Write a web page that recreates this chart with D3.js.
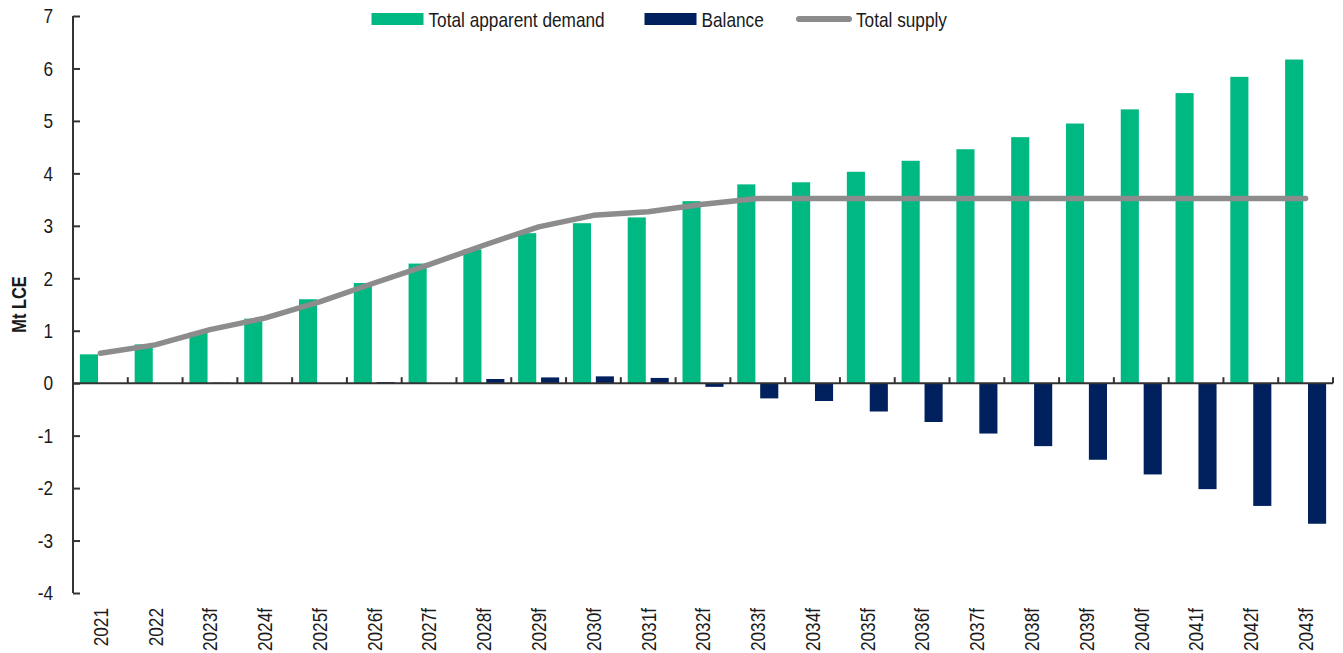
<!DOCTYPE html>
<html>
<head>
<meta charset="utf-8">
<script src="https://cdn.jsdelivr.net/npm/d3@7"></script>
<style>
  html, body { margin: 0; padding: 0; background: #ffffff; }
  svg { display: block; }
  text {
    font-family: "Liberation Sans", Arial, sans-serif;
    fill: #1a1a1a;
  }
</style>
</head>
<body>
<svg id="chart" width="1343" height="653"></svg>
<script>
// Lithium market outlook, Mt LCE
const categories = ["2021", "2022", "2023f", "2024f", "2025f", "2026f", "2027f", "2028f",
  "2029f", "2030f", "2031f", "2032f", "2033f", "2034f", "2035f", "2036f", "2037f",
  "2038f", "2039f", "2040f", "2041f", "2042f", "2043f"];

const demand = [0.55, 0.74, 0.97, 1.23, 1.60, 1.91, 2.28, 2.55, 2.86, 3.05, 3.16, 3.47,
  3.79, 3.83, 4.03, 4.24, 4.46, 4.69, 4.95, 5.22, 5.53, 5.84, 6.17];

const balance = [0, 0, 0.01, 0, 0, 0.02, 0, 0.08, 0.11, 0.13, 0.10, -0.07,
  -0.29, -0.34, -0.54, -0.74, -0.96, -1.20, -1.46, -1.74, -2.02, -2.34, -2.68];

const supply = [0.57, 0.73, 1.02, 1.24, 1.55, 1.91, 2.26, 2.63, 2.98, 3.20, 3.27, 3.41,
  3.52, 3.52, 3.52, 3.52, 3.52, 3.52, 3.52, 3.52, 3.52, 3.52, 3.52];

const yTicks = [-4, -3, -2, -1, 0, 1, 2, 3, 4, 5, 6, 7];

const seriesNames = ["Total apparent demand", "Balance", "Total supply"];
const colors = { demand: "#00b982", balance: "#00215e", supply: "#8c8c8c" };
const axisColor = "#333333";
const fontSize = "21px";

// Condensed lettering: squeeze each label's glyphs horizontally
function narrow(sel, factor = 0.82) {
  sel.each(function () {
    const len = this.getComputedTextLength();
    d3.select(this)
      .attr("textLength", len * factor)
      .attr("lengthAdjust", "spacingAndGlyphs");
  });
}

const svg = d3.select("#chart");
const plot = { left: 73, right: 1333, top: 16, bottom: 593 };

const x = d3.scaleBand()
  .domain(categories)
  .range([plot.left, plot.right])
  .paddingInner(0)
  .paddingOuter(0);

const xSub = d3.scaleBand()
  .domain(["demand", "balance"])
  .range([0, x.bandwidth()])
  .paddingInner(0.21)
  .paddingOuter(0.3);

const y = d3.scaleLinear()
  .domain([-4, 7])
  .range([plot.bottom, plot.top]);

const rows = categories.map((c, i) => ({ cat: c, demand: demand[i], balance: balance[i], supply: supply[i] }));

// Demand bars
svg.append("g")
  .selectAll("rect")
  .data(rows)
  .join("rect")
  .attr("x", d => x(d.cat) + xSub("demand"))
  .attr("width", xSub.bandwidth())
  .attr("y", d => y(Math.max(0, d.demand)))
  .attr("height", d => Math.abs(y(d.demand) - y(0)))
  .attr("fill", colors.demand);

// Balance bars
svg.append("g")
  .selectAll("rect")
  .data(rows.filter(d => d.balance !== 0))
  .join("rect")
  .attr("x", d => x(d.cat) + xSub("balance"))
  .attr("width", xSub.bandwidth())
  .attr("y", d => y(Math.max(0, d.balance)))
  .attr("height", d => Math.abs(y(d.balance) - y(0)))
  .attr("fill", colors.balance);

// Supply line
const line = d3.line()
  .x(d => x(d.cat) + x.bandwidth() / 2)
  .y(d => y(d.supply));

svg.append("path")
  .datum(rows)
  .attr("d", line)
  .attr("fill", "none")
  .attr("stroke", colors.supply)
  .attr("stroke-width", 5.5)
  .attr("stroke-linejoin", "round")
  .attr("stroke-linecap", "round");

// Y axis with inward ticks
const yAxis = d3.axisLeft(y)
  .tickValues(yTicks)
  .tickFormat(d => String(d))
  .tickSize(-7)
  .tickPadding(20);

const gy = svg.append("g")
  .attr("transform", `translate(${plot.left},0)`)
  .call(yAxis);
gy.select(".domain").remove();
gy.append("line")
  .attr("x1", 0).attr("x2", 0)
  .attr("y1", plot.top).attr("y2", plot.bottom)
  .attr("stroke", axisColor).attr("stroke-width", 2);
gy.selectAll(".tick line").attr("stroke", axisColor).attr("stroke-width", 2);
gy.selectAll(".tick text")
  .style("font-size", fontSize)
  .style("font-family", "'Liberation Sans', Arial, sans-serif")
  .attr("fill", "#1a1a1a")
  .call(narrow);

// X axis along zero with ticks at category boundaries
const gx = svg.append("g");
gx.append("line")
  .attr("x1", plot.left).attr("x2", plot.right)
  .attr("y1", y(0)).attr("y2", y(0))
  .attr("stroke", axisColor).attr("stroke-width", 2);
gx.selectAll("line.tick")
  .data(categories.slice(1).concat(["__end"]))
  .join("line")
  .attr("class", "tick")
  .attr("x1", d => d === "__end" ? plot.right : x(d))
  .attr("x2", d => d === "__end" ? plot.right : x(d))
  .attr("y1", y(0))
  .attr("y2", y(0) - 6)
  .attr("stroke", axisColor)
  .attr("stroke-width", 2);

// Category labels, rotated, below the plot
svg.append("g")
  .selectAll("text")
  .data(categories)
  .join("text")
  .attr("transform", d => `translate(${x(d) + x.bandwidth() / 2},${plot.bottom + 15}) rotate(-90)`)
  .attr("text-anchor", "end")
  .attr("dy", "0.35em")
  .style("font-size", fontSize)
  .text(d => d)
  .call(narrow);

// Y axis title
svg.append("text")
  .attr("transform", `translate(19,${y(1.5)}) rotate(-90)`)
  .attr("text-anchor", "middle")
  .attr("dy", "0.35em")
  .style("font-size", fontSize)
  .style("font-weight", "bold")
  .text("Mt LCE")
  .call(narrow, 0.78);

// Legend
const legend = svg.append("g");
const legendItems = [
  { name: seriesNames[0], key: "demand", x: 371.5 },
  { name: seriesNames[1], key: "balance", x: 644.5 },
  { name: seriesNames[2], key: "supply", x: 796 }
];
const legendY = 19;
legendItems.forEach(item => {
  const g = legend.append("g").attr("transform", `translate(${item.x},0)`);
  if (item.key === "supply") {
    g.append("line")
      .attr("x1", 3).attr("x2", 53)
      .attr("y1", legendY).attr("y2", legendY)
      .attr("stroke", colors.supply)
      .attr("stroke-width", 6)
      .attr("stroke-linecap", "round");
  } else {
    g.append("rect")
      .attr("x", 0).attr("y", legendY - 6)
      .attr("width", 52).attr("height", 12)
      .attr("fill", colors[item.key]);
  }
  g.append("text")
    .attr("x", item.key === "supply" ? 60 : 57)
    .attr("y", legendY + 0.5)
    .attr("dy", "0.35em")
    .style("font-size", fontSize)
    .text(item.name)
    .call(narrow);
});
</script>
</body>
</html>
